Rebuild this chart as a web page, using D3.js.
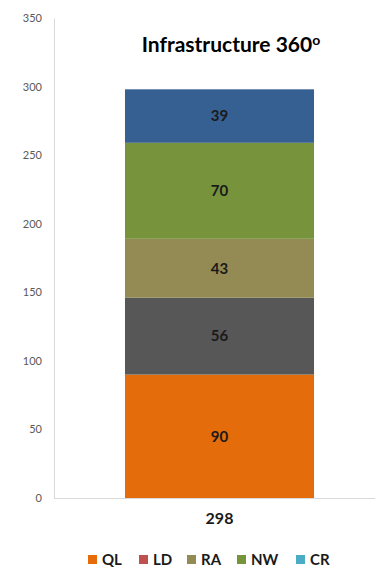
<!DOCTYPE html>
<html>
<head>
<meta charset="utf-8">
<script src="https://cdn.jsdelivr.net/npm/d3@7"></script>
<style>
  body { margin: 0; background: #fff; }
  svg { display: block; font-family: Lato, "Open Sans", sans-serif; }
</style>
</head>
<body>
<svg id="chart" width="375" height="567"></svg>
<script>
// Chart data
const categories = ['298'];
const seriesKeys = ['QL', 'LD', 'RA', 'NW', 'CR'];
const seriesValues = [90, 56, 43, 70, 39];
const yTicks = [0, 50, 100, 150, 200, 250, 300, 350];

// Bar segment colours differ from legend swatches in the original
const barColors = ['#e46c0a', '#575757', '#948a54', '#77933c', '#376092'];
const legendColors = ['#e46c0a', '#c0504d', '#948a54', '#77933c', '#4bacc6'];

const svg = d3.select('#chart');
const margin = { top: 18, left: 54, bottom: 69 };
const height = 567;

const row = { category: categories[0] };
seriesKeys.forEach((k, i) => { row[k] = seriesValues[i]; });
const stacked = d3.stack().keys(seriesKeys)([row]);

// Scales
const x = d3.scaleBand()
  .domain(categories)
  .range([margin.left, 385])
  .padding(0.273);

const y = d3.scaleLinear()
  .domain([0, 350])
  .range([height - margin.bottom, margin.top]);

// Y axis
const yAxis = svg.append('g')
  .attr('transform', `translate(${margin.left},0)`)
  .call(d3.axisLeft(y).tickValues(yTicks).tickSize(0).tickPadding(12));
yAxis.select('.domain').attr('stroke', '#d9d9d9');
yAxis.selectAll('text')
  .attr('fill', '#595959')
  .style('font-size', '11px')
  .style('font-family', 'Lato, sans-serif');

// X axis
const xAxis = svg.append('g')
  .attr('transform', `translate(0,${y(0)})`)
  .call(d3.axisBottom(x).tickSize(0).tickPadding(15));
xAxis.select('.domain').attr('stroke', '#d9d9d9').attr('d', `M${margin.left},0.5H375`);
xAxis.selectAll('text')
  .attr('fill', '#1a1a1a')
  .style('font-size', '16px')
  .style('font-weight', 'bold')
  .style('font-family', 'Lato, sans-serif');

// Bars
const layers = svg.append('g')
  .selectAll('g')
  .data(stacked)
  .join('g')
  .attr('fill', (d, i) => barColors[i]);

layers.selectAll('rect')
  .data((d) => d)
  .join('rect')
  .attr('x', (d) => x(d.data.category))
  .attr('width', x.bandwidth())
  .attr('y', (d) => y(d[1]))
  .attr('height', (d) => y(d[0]) - y(d[1]));

// Segment value labels
layers.selectAll('text')
  .data((d) => d)
  .join('text')
  .attr('x', (d) => x(d.data.category) + x.bandwidth() / 2)
  .attr('y', (d) => (y(d[0]) + y(d[1])) / 2)
  .attr('dy', '0.35em')
  .attr('text-anchor', 'middle')
  .attr('fill', '#1a1a1a')
  .style('font-size', '15px')
  .style('font-weight', 'bold')
  .text((d) => d[1] - d[0]);

// Title
const title = svg.append('text')
  .attr('x', 231)
  .attr('y', 52)
  .attr('text-anchor', 'middle')
  .attr('fill', '#000')
  .style('font-size', '21px')
  .style('font-weight', 'bold');
title.append('tspan').text('Infrastructure 360');
title.append('tspan').attr('dy', '-7').style('font-size', '14px').text('o');

// Legend
const legendX = [88, 139, 187, 237, 296];
const legend = svg.append('g')
  .selectAll('g')
  .data(seriesKeys)
  .join('g')
  .attr('transform', (d, i) => `translate(${legendX[i]},556)`);

legend.append('rect')
  .attr('width', 9)
  .attr('height', 9)
  .attr('y', -1)
  .attr('fill', (d, i) => legendColors[i]);

legend.append('text')
  .attr('x', 14)
  .attr('y', 4)
  .attr('dy', '0.35em')
  .attr('fill', '#1a1a1a')
  .style('font-size', '15px')
  .style('font-weight', 'bold')
  .text((d) => d);
</script>
</body>
</html>
